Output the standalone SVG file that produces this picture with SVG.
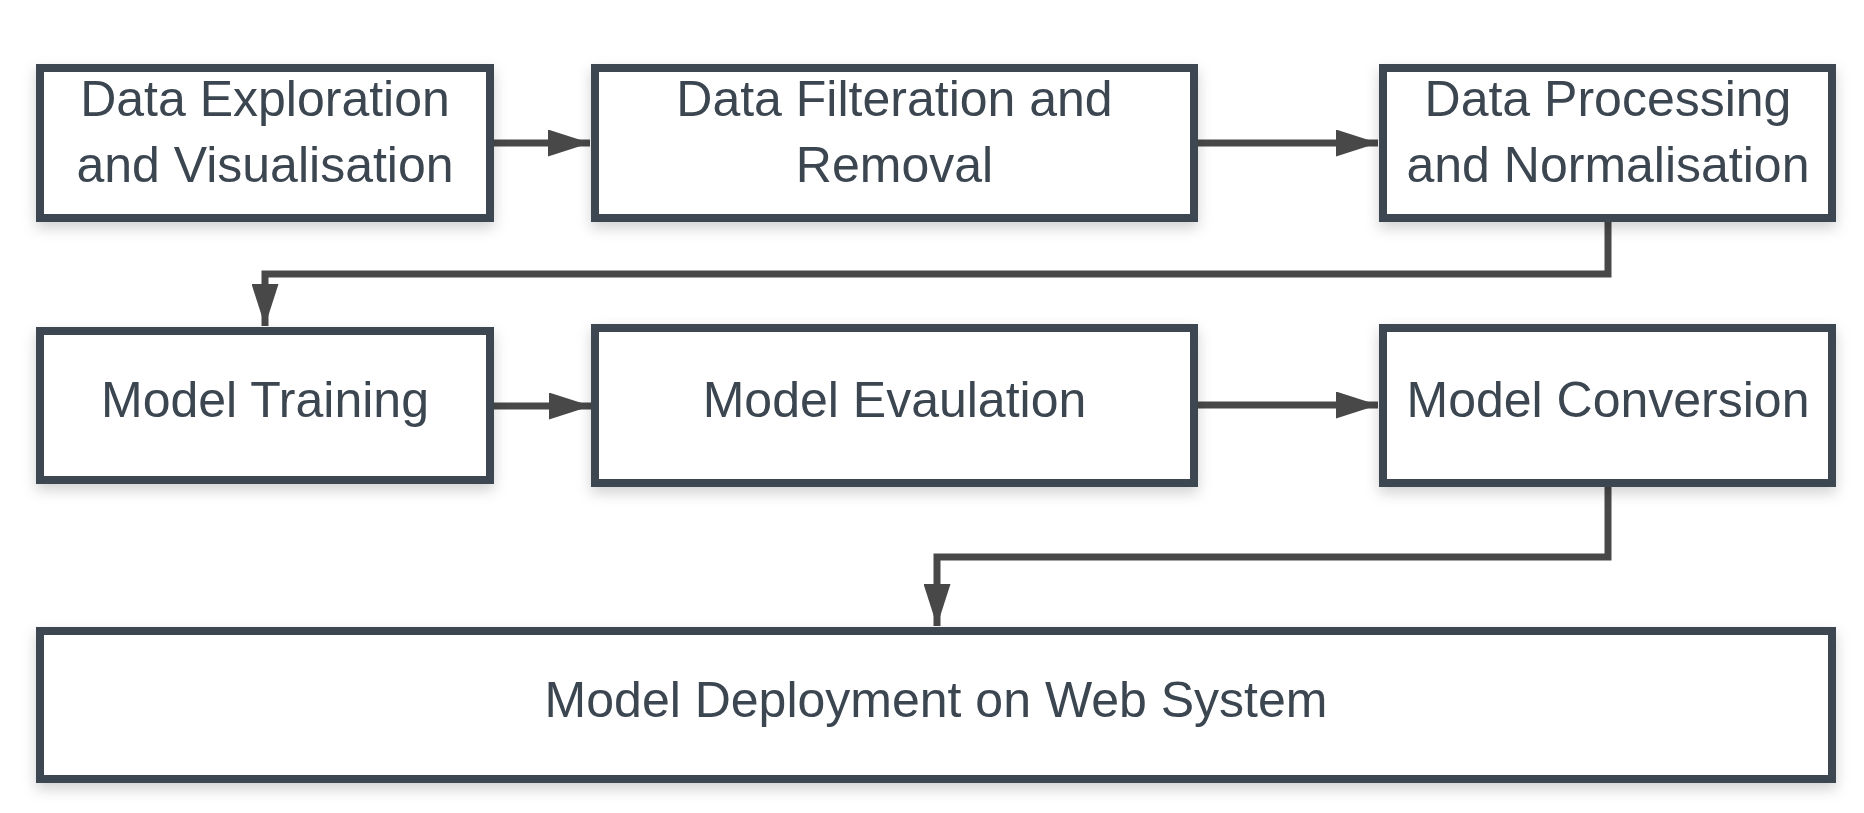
<svg xmlns="http://www.w3.org/2000/svg" width="1864" height="813" viewBox="0 0 1864 813">
  <style>
    .box { fill: #ffffff; stroke: #3c4651; stroke-width: 8; filter: url(#shadow); }
    .lbl { font-family: "Liberation Sans", Arial, sans-serif; font-size: 50px; fill: #3c4651; text-anchor: middle; }
    .conn { fill: none; stroke: #484848; stroke-width: 7; stroke-linejoin: miter; marker-end: url(#arrow); }
  </style>
  <defs>
    <filter id="shadow" x="-10%" y="-20%" width="120%" height="150%">
      <feDropShadow dx="0" dy="6" stdDeviation="7" flood-color="#000000" flood-opacity="0.18"/>
    </filter>
    <marker id="arrow" viewBox="0 0 42 27" refX="42" refY="13.5" markerWidth="42" markerHeight="27" markerUnits="userSpaceOnUse" orient="auto">
      <path d="M0 0 L42 13.5 L0 27 Z" fill="#484848"/>
    </marker>
  </defs>
  <rect width="1864" height="813" fill="#ffffff"/>

  <g id="connectors">
    <path class="conn" d="M494 143 H590"/>
    <path class="conn" d="M1198 143 H1378"/>
    <path class="conn" d="M1608 222 V274 H265 V326"/>
    <path class="conn" d="M494 406 H591"/>
    <path class="conn" d="M1198 405 H1378"/>
    <path class="conn" d="M1608 487 V557 H937 V626"/>
  </g>

  <g id="node-exploration">
    <rect class="box" x="40" y="68" width="450" height="150"/>
    <text class="lbl" x="265" y="116">Data Exploration</text>
    <text class="lbl" x="265" y="182">and Visualisation</text>
  </g>
  <g id="node-filteration">
    <rect class="box" x="595" y="68" width="599" height="150"/>
    <text class="lbl" x="894.5" y="116">Data Filteration and</text>
    <text class="lbl" x="894.5" y="182">Removal</text>
  </g>
  <g id="node-processing">
    <rect class="box" x="1383" y="68" width="449" height="150"/>
    <text class="lbl" x="1608" y="116">Data Processing</text>
    <text class="lbl" x="1608" y="182">and Normalisation</text>
  </g>
  <g id="node-training">
    <rect class="box" x="40" y="331" width="450" height="149"/>
    <text class="lbl" x="265" y="417">Model Training</text>
  </g>
  <g id="node-evaluation">
    <rect class="box" x="595" y="328" width="599" height="155"/>
    <text class="lbl" x="894.5" y="417">Model Evaulation</text>
  </g>
  <g id="node-conversion">
    <rect class="box" x="1383" y="328" width="449" height="155"/>
    <text class="lbl" x="1608" y="417">Model Conversion</text>
  </g>
  <g id="node-deployment">
    <rect class="box" x="40" y="631" width="1792" height="148"/>
    <text class="lbl" x="936" y="717">Model Deployment on Web System</text>
  </g>
</svg>
